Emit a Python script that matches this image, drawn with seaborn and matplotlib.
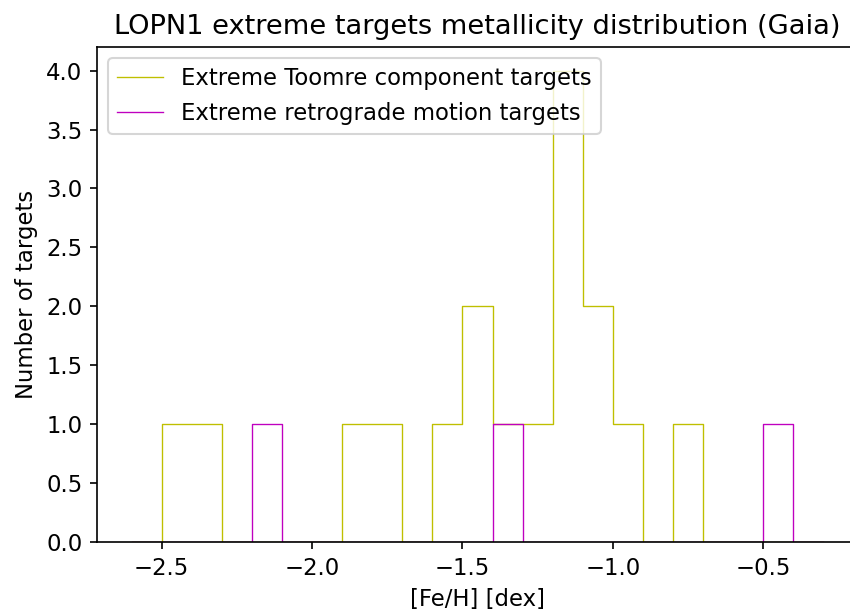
import numpy as np
import pandas as pd
import matplotlib
matplotlib.use("Agg")
import matplotlib.pyplot as plt
import seaborn as sns

# [Fe/H] values (dex) of the extreme targets (bin centres)
toomre_feh = [-2.45, -2.35, -1.85, -1.75, -1.55, -1.45, -1.45, -1.35, -1.25,
              -1.15, -1.15, -1.15, -1.15, -1.05, -1.05, -0.95, -0.75]
retro_feh = [-2.15, -1.35, -0.45]

bin_lo, bin_hi, n_bins = -2.6, -0.3, 23
bins = np.linspace(bin_lo, bin_hi, n_bins + 1)

plt.rcParams["font.size"] = 10.9

W, H, DPI = 850, 610, 150
fig = plt.figure(figsize=(W / DPI, H / DPI), dpi=DPI)
ax = fig.add_axes([97 / W, 68 / H, 761 / W, 495 / H])

sns.histplot(x=toomre_feh, bins=bins, element="step", fill=False,
             color="y", linewidth=0.65, label="Extreme Toomre component targets", ax=ax)
sns.histplot(x=retro_feh, bins=bins, element="step", fill=False,
             color="m", linewidth=0.65, label="Extreme retrograde motion targets", ax=ax)

ax.set_xlim(-2.715, -0.185)
ax.set_ylim(0, 4.2)
ax.set_xlabel("[Fe/H] [dex]")
ax.set_ylabel("Number of targets")
ax.set_title("LOPN1 extreme targets metallicity distribution (Gaia)", fontsize=13.1)
ax.legend(loc="upper left")

fig.savefig("out.png", dpi=DPI)
